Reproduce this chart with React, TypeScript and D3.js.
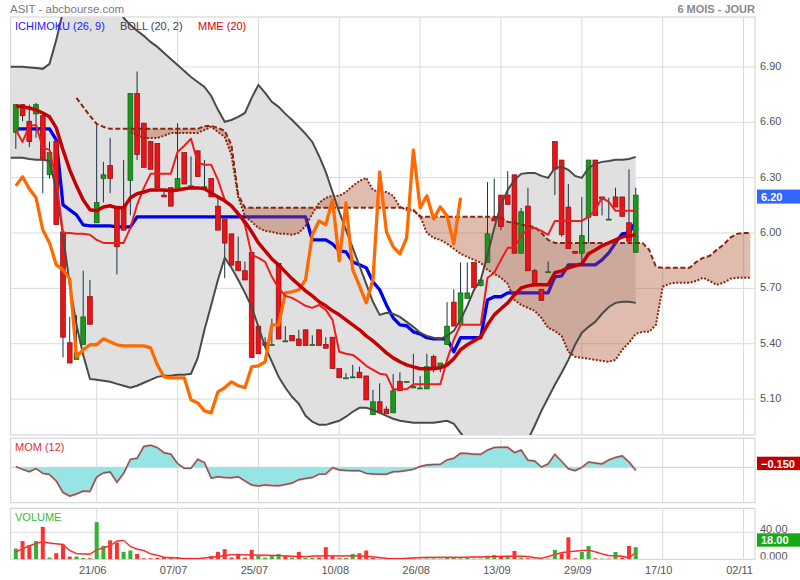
import React from "react";
import * as d3 from "d3";

const DATES = ["21/06", "07/07", "25/07", "10/08", "26/08", "13/09", "29/09", "17/10", "02/11"];
const DATE_IDX = [12, 24, 36, 48, 60, 72, 84, 96, 108];
const PRICE_TICKS = [6.9, 6.6, 6.3, 6.0, 5.7, 5.4, 5.1];
const VOL_TICKS = [0, 40];

const OPEN = [6.54, 6.69, 6.60, 6.64, 6.63, 6.31, 6.49, 6.00, 5.40, 5.31,
  5.39, 5.65, 6.05, 6.29, 6.36, 6.14, 6.14, 6.28, 6.75, 6.59,
  6.49, 6.48, 6.20, 6.24, 6.23, 6.43, 6.235, 6.44, 6.24, 6.29,
  6.14, 6.07, 5.99, 5.84, 5.79, 5.89, 5.49, 5.40, 5.39, 5.83,
  5.41, 5.44, 5.42, 5.47, 5.39, 5.47, 5.39, 5.43, 5.26, 5.21,
  5.21, 5.24, 5.22, 5.01, 5.08, 5.04, 5.02, 5.19, 5.19, 5.155,
  5.155, 5.15, 5.325, 5.27, 5.39, 5.62, 5.50, 5.64, 5.835, 5.71,
  5.835, 6.075, 6.20, 6.20, 6.31, 5.885, 6.14, 5.79, 5.69, 5.785,
  6.49, 6.39, 6.135, 5.895, 5.885, 6.08, 6.39, 6.19, 6.065, 6.19,
  6.19, 6.05, 5.89];
const HIGH = [6.69, 6.69, 6.69, 6.70, 6.65, 6.49, 6.49, 6.00, 5.54, 5.55,
  5.79, 5.74, 6.59, 6.38, 6.51, 6.14, 6.39, 6.75, 6.87, 6.59,
  6.49, 6.48, 6.23, 6.24, 6.59, 6.43, 6.41, 6.44, 6.39, 6.29,
  6.185, 6.07, 5.99, 5.975, 5.84, 5.89, 5.49, 5.43, 5.53, 5.83,
  5.49, 5.44, 5.47, 5.47, 5.44, 5.47, 5.43, 5.43, 5.26, 5.235,
  5.28, 5.27, 5.22, 5.145, 5.18, 5.055, 5.23, 5.24, 5.19, 5.34,
  5.22, 5.34, 5.335, 5.29, 5.62, 5.69, 5.835, 5.835, 5.835, 5.74,
  6.27, 6.29, 6.20, 6.33, 6.31, 6.13, 6.24, 5.80, 5.69, 5.84,
  6.49, 6.39, 6.26, 5.895, 6.19, 6.39, 6.39, 6.19, 6.185, 6.24,
  6.19, 6.34, 6.24];
const LOW = [6.45, 6.60, 6.46, 6.51, 6.21, 6.29, 6.04, 5.32, 5.29, 5.31,
  5.39, 5.50, 6.05, 6.16, 6.21, 5.77, 6.01, 6.09, 6.39, 6.35,
  6.34, 6.24, 6.19, 6.14, 6.23, 6.26, 6.23, 6.30, 6.24, 6.19,
  6.01, 5.75, 5.82, 5.79, 5.74, 5.32, 5.34, 5.38, 5.39, 5.42,
  5.41, 5.41, 5.385, 5.385, 5.39, 5.385, 5.37, 5.26, 5.21, 5.21,
  5.21, 5.21, 5.09, 5.01, 5.02, 5.015, 5.02, 5.14, 5.19, 5.155,
  5.15, 5.15, 5.24, 5.24, 5.39, 5.49, 5.50, 5.64, 5.70, 5.705,
  5.835, 6.06, 6.01, 6.145, 5.885, 5.885, 5.79, 5.71, 5.63, 5.785,
  6.20, 5.975, 5.91, 5.885, 5.83, 5.94, 6.09, 6.09, 6.065, 6.135,
  6.085, 5.95, 5.89];
const CLOSE = [6.69, 6.63, 6.49, 6.69, 6.39, 6.43, 6.04, 5.43, 5.29, 5.345,
  5.54, 5.50, 6.16, 6.31, 6.29, 5.92, 6.01, 6.75, 6.42, 6.35,
  6.34, 6.24, 6.19, 6.14, 6.29, 6.26, 6.25, 6.30, 6.245, 6.19,
  6.01, 5.94, 5.82, 5.79, 5.74, 5.32, 5.34, 5.385, 5.39, 5.42,
  5.41, 5.41, 5.385, 5.385, 5.39, 5.385, 5.37, 5.26, 5.21, 5.21,
  5.215, 5.21, 5.09, 5.08, 5.02, 5.015, 5.14, 5.14, 5.19, 5.163,
  5.155, 5.27, 5.27, 5.29, 5.49, 5.49, 5.67, 5.67, 5.70, 5.74,
  5.99, 6.06, 6.03, 6.15, 5.885, 6.11, 5.79, 5.71, 5.63, 5.785,
  6.34, 5.985, 5.91, 5.885, 5.98, 6.39, 6.09, 6.18, 6.07, 6.135,
  6.085, 5.95, 6.20];

// Bollinger (20, 2) — starts one day before the first candle
const BAND_START = -1;
const BOLL_UP = [6.895, 6.895, 6.895, 6.892, 6.889, 6.884, 6.911, 7.041, 7.193, 7.312,
  7.393, 7.447, 7.474, 7.474, 7.447, 7.393, 7.285, 7.160, 7.122, 7.090,
  7.063, 7.030, 7.003, 6.970, 6.938, 6.905, 6.873, 6.840, 6.813, 6.786,
  6.737, 6.662, 6.597, 6.607, 6.624, 6.645, 6.727, 6.797, 6.754, 6.705,
  6.678, 6.640, 6.607, 6.570, 6.532, 6.488, 6.412, 6.326, 6.217, 6.109,
  6.012, 5.914, 5.817, 5.719, 5.622, 5.551, 5.562, 5.557, 5.540, 5.513,
  5.486, 5.454, 5.437, 5.427, 5.421, 5.437, 5.464, 5.524, 5.600, 5.687,
  5.741, 5.876, 6.022, 6.147, 6.228, 6.282, 6.315, 6.320, 6.320, 6.304,
  6.293, 6.347, 6.353, 6.337, 6.304, 6.293, 6.347, 6.369, 6.380, 6.385,
  6.391, 6.391, 6.396, 6.407];
const BOLL_LOW = [6.402, 6.402, 6.402, 6.396, 6.391, 6.391, 6.385, 6.228, 5.985, 5.714,
  5.497, 5.334, 5.204, 5.199, 5.194, 5.188, 5.177, 5.167, 5.156, 5.167,
  5.183, 5.199, 5.215, 5.221, 5.221, 5.226, 5.226, 5.232, 5.318, 5.470,
  5.605, 5.741, 5.860, 5.806, 5.741, 5.670, 5.594, 5.486, 5.378, 5.297,
  5.215, 5.156, 5.107, 5.069, 5.004, 4.972, 4.955, 4.955, 4.966, 4.977,
  4.999, 5.026, 5.047, 5.047, 5.037, 5.020, 5.004, 4.988, 4.977, 4.972,
  4.966, 4.966, 4.966, 4.966, 4.972, 4.977, 4.961, 4.912, 4.863, 4.842,
  4.831, 4.825, 4.825, 4.831, 4.836, 4.842, 4.852, 4.874, 4.950, 5.031,
  5.102, 5.172, 5.237, 5.307, 5.389, 5.454, 5.486, 5.513, 5.557, 5.594,
  5.616, 5.622, 5.622, 5.616];

// Ichimoku (26, 9)
const KIJUN = [6.559, 6.559, 6.559, 6.559, 6.559, 6.559, 6.499, 6.147, 6.120, 6.093,
  6.039, 6.033, 6.033, 6.033, 6.033, 6.028, 6.028, 6.028, 6.082, 6.082,
  6.082, 6.082, 6.082, 6.082, 6.082, 6.082, 6.082, 6.082, 6.082, 6.082,
  6.082, 6.082, 6.082, 6.082, 6.082, 6.082, 6.082, 6.082, 6.082, 6.082,
  6.082, 6.082, 6.082, 6.082, 5.957, 5.957, 5.957, 5.936, 5.898, 5.892,
  5.838, 5.822, 5.806, 5.730, 5.687, 5.605, 5.535, 5.497, 5.492, 5.459,
  5.448, 5.427, 5.421, 5.421, 5.421, 5.351, 5.427, 5.427, 5.427, 5.427,
  5.632, 5.649, 5.649, 5.670, 5.670, 5.670, 5.670, 5.670, 5.670, 5.670,
  5.757, 5.762, 5.822, 5.822, 5.822, 5.822, 5.822, 5.849, 5.887, 5.941,
  5.990, 5.995, 6.055];
const TENKAN = [6.553, 6.488, 6.575, 6.580, 6.456, 6.445, 6.282, 5.995, 5.995, 5.990,
  5.990, 5.985, 5.957, 5.941, 5.941, 5.941, 5.941, 6.022, 6.147, 6.239,
  6.315, 6.315, 6.315, 6.315, 6.434, 6.467, 6.505, 6.375, 6.364, 6.364,
  6.282, 6.174, 6.142, 6.104, 6.039, 5.876, 5.860, 5.838, 5.757, 5.697,
  5.654, 5.643, 5.622, 5.600, 5.589, 5.605, 5.578, 5.524, 5.351, 5.340,
  5.334, 5.307, 5.275, 5.253, 5.232, 5.226, 5.148, 5.148, 5.148, 5.175,
  5.175, 5.175, 5.175, 5.175, 5.307, 5.416, 5.497, 5.497, 5.497, 5.497,
  5.752, 5.779, 5.849, 5.914, 5.914, 5.979, 6.017, 6.022, 6.006, 5.985,
  6.060, 6.060, 6.060, 6.060, 6.060, 6.082, 6.120, 6.185, 6.163, 6.115,
  6.115, 6.115, 6.115];
const CHIKOU = [6.250, 6.299, 6.234, 6.185, 6.012, 5.941, 5.822, 5.795, 5.746, 5.324,
  5.362, 5.389, 5.389, 5.421, 5.405, 5.389, 5.383, 5.383, 5.383, 5.383,
  5.372, 5.280, 5.215, 5.210, 5.210, 5.210, 5.091, 5.074, 5.031, 5.020,
  5.134, 5.156, 5.188, 5.167, 5.156, 5.269, 5.275, 5.297, 5.497, 5.497,
  5.670, 5.676, 5.687, 5.741, 5.985, 6.060, 6.039, 6.174, 5.844, 6.158,
  5.795, 5.708, 5.616, 5.741, 6.326, 6.001, 5.920, 5.882, 5.968, 6.445,
  6.131, 6.196, 6.071, 6.136, 6.087, 5.936, 6.185];
const SPAN_A_START = 9;
const SPAN_A = [6.727, 6.678, 6.629, 6.586, 6.570, 6.559, 6.559, 6.559, 6.559, 6.559,
  6.559, 6.559, 6.559, 6.559, 6.559, 6.559, 6.559, 6.559, 6.559, 6.575,
  6.575, 6.564, 6.548, 6.472, 6.201, 6.131, 6.131, 6.131, 6.131, 6.131,
  6.131, 6.131, 6.131, 6.131, 6.131, 6.131, 6.131, 6.131, 6.131, 6.131,
  6.131, 6.131, 6.131, 6.131, 6.131, 6.131, 6.131, 6.131, 6.131, 6.131,
  6.120, 6.082, 6.082, 6.082, 6.082, 6.082, 6.082, 6.082, 6.082, 6.082,
  6.082, 6.082, 6.082, 6.077, 6.055, 6.050, 6.039, 6.033, 6.028, 5.995,
  5.957, 5.941, 5.941, 5.941, 5.941, 5.941, 5.941, 5.941, 5.941, 5.941,
  5.941, 5.941, 5.941, 5.941, 5.941, 5.903, 5.811, 5.806, 5.806, 5.806,
  5.806, 5.806, 5.838, 5.860, 5.871, 5.903, 5.930, 5.968, 5.990, 5.995,
  5.995];
const SPAN_B_START = 17;
const SPAN_B = [6.542, 6.526, 6.510, 6.510, 6.510, 6.521, 6.537, 6.537, 6.537, 6.537,
  6.537, 6.553, 6.570, 6.542, 6.515, 6.418, 6.190, 6.087, 6.055, 6.022,
  6.006, 6.001, 5.990, 5.990, 5.985, 5.995, 6.033, 6.098, 6.158, 6.185,
  6.196, 6.196, 6.217, 6.250, 6.277, 6.293, 6.228, 6.217, 6.217, 6.196,
  6.136, 6.120, 6.115, 6.087, 5.995, 5.968, 5.957, 5.936, 5.909, 5.882,
  5.865, 5.849, 5.833, 5.795, 5.773, 5.752, 5.719, 5.632, 5.605, 5.589,
  5.573, 5.535, 5.481, 5.464, 5.437, 5.351, 5.324, 5.318, 5.313, 5.307,
  5.302, 5.297, 5.307, 5.362, 5.400, 5.448, 5.459, 5.459, 5.497, 5.703,
  5.719, 5.725, 5.725, 5.725, 5.735, 5.752, 5.735, 5.714, 5.725, 5.746,
  5.752, 5.752, 5.752];

// MME (20)
const EMA20 = [6.683, 6.678, 6.672, 6.662, 6.645, 6.624, 6.564, 6.445, 6.337, 6.250,
  6.174, 6.120, 6.115, 6.136, 6.142, 6.131, 6.131, 6.185, 6.207, 6.217,
  6.228, 6.228, 6.228, 6.223, 6.228, 6.234, 6.239, 6.239, 6.234, 6.212,
  6.190, 6.169, 6.142, 6.098, 6.055, 6.001, 5.941, 5.898, 5.854, 5.822,
  5.784, 5.746, 5.714, 5.681, 5.654, 5.622, 5.600, 5.573, 5.551, 5.524,
  5.497, 5.470, 5.437, 5.410, 5.378, 5.345, 5.318, 5.297, 5.280, 5.269,
  5.259, 5.259, 5.259, 5.264, 5.280, 5.313, 5.362, 5.389, 5.410, 5.432,
  5.497, 5.551, 5.584, 5.616, 5.659, 5.697, 5.708, 5.714, 5.714, 5.714,
  5.779, 5.789, 5.806, 5.817, 5.827, 5.882, 5.903, 5.925, 5.941, 5.957,
  5.974, 5.979, 5.985];

// MOM (12)
const MOM = [0.03, -0.10, -0.21, -0.06, -0.29, -0.34, -0.65, -1.20, -1.37, -1.27,
  -1.13, -1.15, -0.46, -0.27, -0.22, -0.71, -0.29, 0.38, 0.43, 0.99,
  1.05, 0.94, 0.69, 0.63, 0.18, -0.05, -0.05, 0.38, 0.22, -0.52,
  -0.45, -0.49, -0.50, -0.45, -0.65, -0.84, -0.89, -0.84, -0.87, -0.88,
  -0.82, -0.75, -0.59, -0.53, -0.49, -0.33, -0.32, -0.02, -0.13, -0.15,
  -0.16, -0.16, -0.29, -0.32, -0.33, -0.33, -0.21, -0.20, -0.15, -0.10,
  0.04, 0.11, 0.13, 0.14, 0.35, 0.43, 0.67, 0.66, 0.62, 0.62,
  0.82, 0.94, 0.95, 0.95, 0.70, 0.82, 0.33, 0.30, 0.01, 0.16,
  0.62, 0.28, -0.07, -0.16, 0.00, 0.25, 0.20, 0.16, 0.35, 0.47,
  0.54, 0.25, -0.15];

// VOLUME
const VOL = [16, 27, 21, 27, 48, 2.5, 9, 22, 4, 4,
  2, 1.5, 55, 20, 28, 25, 11, 13, 8, 1.5,
  1.5, 2, 3, 2, 3.5, 1, 1, 1, 1, 5,
  11, 15, 2.5, 8, 2.5, 14, 5, 2.5, 5, 8,
  5, 2.5, 11, 2, 2, 2.5, 18, 5, 1.5, 2,
  8, 9, 13, 2, 1, 1, 1.5, 1.5, 1, 1.5,
  1, 1.5, 1.5, 1, 3, 3, 1.5, 2, 1, 1,
  5.3, 6.4, 4.9, 4.9, 12.3, 2.5, 1.5, 1, 1, 1,
  13.8, 8.9, 32.6, 1.5, 10.8, 19.7, 1.5, 1, 1, 10.8,
  2.5, 19.7, 18];
const VOL_MA = [11, 15.5, 20, 23.5, 26, 24, 23, 22, 13, 8.5,
  8, 7.5, 14, 17, 20, 27, 28, 19, 15, 13,
  8, 6, 3, 2.5, 2, 1, 1, 1, 2, 3,
  4, 5.5, 6.8, 6.8, 6.5, 6.5, 6, 6, 5.8, 5.5,
  5, 4.5, 4, 4, 4.5, 5, 5, 5, 5, 5,
  5, 5, 4.5, 3.5, 2.5, 1.5, 1, 1, 1.5, 2,
  2.5, 3, 3, 3, 3, 3, 3, 3.2, 3.4, 3.4,
  3.6, 4, 4.3, 4.5, 4.7, 4.5, 4, 2.5, 1.5, 4,
  7, 10, 11, 12, 13, 13.5, 11, 8, 5.5, 5,
  4.5, 2, 10];

const FONT = '"Liberation Sans", Arial, Helvetica, sans-serif';

export default function App() {
  const L = 10.7, R = 755;
  const MAIN = { top: 17, bottom: 435 };
  const MOMP = { top: 438.3, bottom: 502.7 };
  const VOLP = { top: 508.3, bottom: 559.3 };

  const x = d3.scaleLinear().domain([-0.76, 109.7]).range([L, R]);
  const y = d3.scaleLinear().domain([4.9, 7.165]).range([MAIN.bottom, MAIN.top]);
  const yMom = d3.scaleLinear().domain([0, 1]).range([467.3, 446.3]);
  const yVol = d3.scaleLinear().domain([0, 40]).range([559.3, 532.3]);

  const line = (arr: number[], start: number, ys: (v: number) => number = y) =>
    d3.line<number>().x((_, i) => x(i + start)).y((d) => ys(d))(arr) || "";

  const bandArea =
    d3.area<number>()
      .x((_, i) => x(i + BAND_START))
      .y0((_, i) => y(BOLL_LOW[i]))
      .y1((d) => y(d))(BOLL_UP) || "";

  const cloudIdx = d3.range(SPAN_B_START, SPAN_A_START + SPAN_A.length);
  const cloudArea =
    d3.area<number>()
      .x((i) => x(i))
      .y0((i) => y(SPAN_A[i - SPAN_A_START]))
      .y1((i) => y(SPAN_B[i - SPAN_B_START]))(cloudIdx) || "";

  const momArea =
    d3.area<number>().x((_, i) => x(i)).y0(yMom(0)).y1((d) => yMom(d))(MOM) || "";

  const fmt2 = d3.format(".2f");
  const fmt3 = d3.format(".3f");
  const fmtVol = d3.format(".4r");

  const gridX = DATE_IDX.map((i) => x(i));
  const lastC = CLOSE[CLOSE.length - 1];
  const lastM = MOM[MOM.length - 1];
  const lastV = VOL[VOL.length - 1];

  const panel = (p: { top: number; bottom: number }) => (
    <rect x={L} y={p.top} width={R - L} height={p.bottom - p.top} fill="#fff" stroke="#cfcfcf" strokeWidth={1} />
  );
  const vGrid = (p: { top: number; bottom: number }) =>
    gridX.map((gx, k) => (
      <line key={k} x1={gx} x2={gx} y1={p.top} y2={p.bottom} stroke="#dadada" strokeWidth={1} />
    ));

  return (
    <svg width={800} height={580} style={{ position: "absolute", left: 0, top: 0, fontFamily: FONT }}>
      <defs>
        <clipPath id="cMain"><rect x={L} y={MAIN.top} width={R - L} height={MAIN.bottom - MAIN.top} /></clipPath>
        <clipPath id="cMom"><rect x={L} y={MOMP.top} width={R - L} height={MOMP.bottom - MOMP.top} /></clipPath>
        <clipPath id="cVol"><rect x={L} y={VOLP.top} width={R - L} height={VOLP.bottom - VOLP.top} /></clipPath>
        <clipPath id="cVolLab"><rect x={756} y={500} width={44} height={59.5} /></clipPath>
      </defs>
      <rect x={0} y={0} width={800} height={580} fill="#fff" />

      {/* header */}
      <text x={10} y={13.3} fontSize={11.5} fill="#7a7a7a">ASIT - abcbourse.com</text>
      <text x={755} y={13.3} fontSize={11} fontWeight="bold" fill="#8a8a8a" textAnchor="end">6 MOIS - JOUR</text>

      {/* MAIN PANEL */}
      {panel(MAIN)}
      {PRICE_TICKS.map((p, k) => (
        <line key={k} x1={L} x2={R} y1={y(p) + 1} y2={y(p) + 1} stroke="#dadada" strokeWidth={1} />
      ))}
      {vGrid(MAIN)}
      <g clipPath="url(#cMain)">
        <path d={bandArea} fill="#e0e0e0" />
        <path d={line(KIJUN, 0)} fill="none" stroke="#0000ee" strokeWidth={3.3} strokeLinejoin="round" />
        <path d={cloudArea} fill="rgb(170,80,40)" fillOpacity={0.38} />
        {/* candles */}
        {CLOSE.map((c, i) => {
          const o = OPEN[i];
          const up = c >= o;
          const top = y(Math.max(o, c));
          const bot = y(Math.min(o, c));
          const cx = x(i);
          return (
            <g key={i}>
              <line x1={cx} x2={cx} y1={y(HIGH[i])} y2={y(LOW[i])} stroke="#163247" strokeWidth={1} />
              <rect x={cx - 2.4} y={top} width={4.8} height={Math.max(1, bot - top)}
                fill={up ? "#1c961c" : "#e8141a"} stroke={up ? "#0d5e0d" : "#8e0a0a"} strokeWidth={0.7} />
            </g>
          );
        })}
        <path d={line(BOLL_UP, BAND_START)} fill="none" stroke="#4a4a4a" strokeWidth={2} />
        <path d={line(BOLL_LOW, BAND_START)} fill="none" stroke="#4a4a4a" strokeWidth={2} />
        <path d={line(SPAN_A, SPAN_A_START)} fill="none" stroke="#8b2510" strokeWidth={2} strokeDasharray="5 2.5" />
        <path d={line(SPAN_B, SPAN_B_START)} fill="none" stroke="#8b2510" strokeWidth={2} strokeDasharray="2 1.6" />
        <path d={line(CHIKOU, 0)} fill="none" stroke="#ff6a00" strokeWidth={3.3} strokeLinejoin="round" />
        <path d={line(TENKAN, 0)} fill="none" stroke="#ee1c1c" strokeWidth={2} strokeLinejoin="round" />
        <path d={line(EMA20, 0)} fill="none" stroke="#c40000" strokeWidth={3.5} strokeLinejoin="round" />
      </g>
      <text x={15} y={30} fontSize={11} fill="#1a1aff">ICHIMOKU (26, 9)</text>
      <text x={120} y={30} fontSize={11} fill="#444">BOLL (20, 2)</text>
      <text x={198} y={30} fontSize={11} fill="#e00000">MME (20)</text>
      {PRICE_TICKS.map((p, k) => (
        <text key={k} x={760} y={y(p) + 4} fontSize={11} fill="#555">{fmt2(p)}</text>
      ))}
      <rect x={757} y={y(lastC) - 5.5} width={43} height={14} fill="#3366ff" />
      <text x={761} y={y(lastC) + 5.5} fontSize={11} fontWeight="bold" fill="#fff">{fmt2(lastC)}</text>

      {/* MOM PANEL */}
      {panel(MOMP)}
      <line x1={L} x2={R} y1={yMom(0)} y2={yMom(0)} stroke="#cfcfcf" strokeWidth={1} />
      {vGrid(MOMP)}
      <g clipPath="url(#cMom)">
        <path d={momArea} fill="#96e4e4" />
        <path d={line(MOM, 0, yMom)} fill="none" stroke="#d07070" strokeWidth={2} />
        <path d={line(MOM, 0, yMom)} fill="none" stroke="#555" strokeWidth={0.8} />
      </g>
      <text x={15} y={451} fontSize={11} fill="#e03030">MOM (12)</text>
      <rect x={757} y={456.7} width={43} height={13.4} fill="#c00000" />
      <text x={761} y={467.5} fontSize={11} fontWeight="bold" fill="#fff">{fmt3(lastM)}</text>

      {/* VOLUME PANEL */}
      {panel(VOLP)}
      <line x1={L} x2={R} y1={yVol(40)} y2={yVol(40)} stroke="#dadada" strokeWidth={1} />
      {vGrid(VOLP)}
      <g clipPath="url(#cVol)">
        {VOL.map((v, i) => {
          const up = i === 0 ? CLOSE[0] >= OPEN[0] : CLOSE[i] >= CLOSE[i - 1];
          return (
            <rect key={i} x={x(i) - 2} y={yVol(v)} width={4} height={yVol(0) - yVol(v)}
              fill={up ? "#33b233" : "#ff3030"} />
          );
        })}
        <path d={line(VOL_MA, 0, yVol)} fill="none" stroke="#ff7070" strokeWidth={1.8} opacity={0.8} />
        <path d={line(VOL_MA, 0, yVol)} fill="none" stroke="#ee0000" strokeWidth={0.8} />
      </g>
      <text x={15} y={521} fontSize={11} fill="#33bb33">VOLUME</text>
      <g clipPath="url(#cVolLab)">
        {VOL_TICKS.map((v, k) => (
          <text key={k} x={760} y={yVol(v) + 0.5} fontSize={11} fill="#555">{fmtVol(v)}</text>
        ))}
      </g>
      <rect x={757} y={533.3} width={43} height={13.4} fill="#19a819" />
      <text x={761} y={544} fontSize={11} fontWeight="bold" fill="#fff">{fmt2(lastV)}</text>

      {/* date axis */}
      {DATES.map((d, k) => (
        <text key={k} x={x(DATE_IDX[k]) - 4} y={573.5} fontSize={11} fill="#555" textAnchor="middle">{d}</text>
      ))}
    </svg>
  );
}
